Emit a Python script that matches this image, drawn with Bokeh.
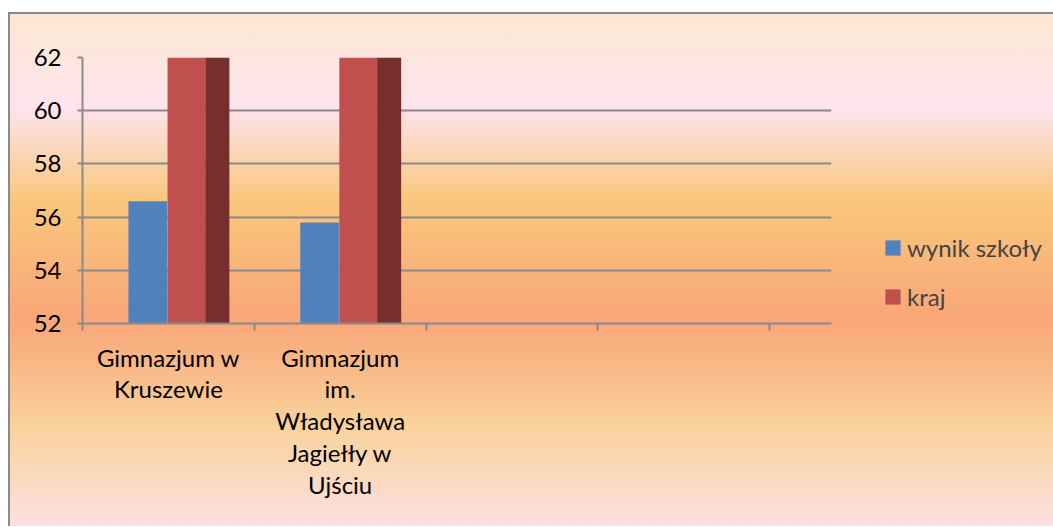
from bokeh.plotting import figure
from bokeh.models import FixedTicker, Legend, LegendItem, Range1d
from bokeh.embed import file_html
from bokeh.resources import INLINE

# ---- data ----
categories = ["Gimnazjum w\nKruszewie", "Gimnazjum\nim.\nWładysława\nJagiełły w\nUjściu"]
wynik_szkoly = [56.6, 55.8]
kraj = [64.0, 64.0]          # exceeds the axis maximum (clipped at 62)
third_series = [64.0, 64.0]  # dark series, also clipped, not in legend
y_ticks = [52, 54, 56, 58, 60, 62]
n_slots = 5                  # category tick boundaries shown on the axis

FONT = "Lato"
GRID = "#8a8a8a"

x_end = 4.36
p = figure(width=1044, height=514, output_backend="svg", toolbar_location=None,
           x_range=Range1d(0, x_end), y_range=Range1d(52, 62),
           frame_width=749, frame_height=266,
           min_border_left=74, min_border_right=221,
           min_border_top=45, min_border_bottom=203)
p.margin = (12, 0, 0, 8)
p.background_fill_alpha = 0
p.border_fill_alpha = 0
p.outline_line_color = None
p.styles = {
    "background-image": "linear-gradient(to bottom, #FBE8D0 0%, #FDE4EE 18.5%, #F9C77C 36.6%, "
                        "#F9A678 60%, #F9D29C 80.7%, #FCE0E0 100%)",
    "box-shadow": "inset 2px 2px 0 0 #8a8a8a",
}

centers = [i + 0.5 for i in range(len(categories))]
blue_x = [c - 0.23 + 0.11 for c in centers]
red_x = [c - 0.005 + 0.11 for c in centers]
dark_x = [c + 0.215 + 0.07 for c in centers]

r1 = p.vbar(x=blue_x, top=wynik_szkoly, bottom=52, width=0.225,
            fill_color="#4F81BD", line_color=None)
r2 = p.vbar(x=red_x, top=kraj, bottom=52, width=0.22,
            fill_color="#C0504D", line_color=None)
p.vbar(x=dark_x, top=third_series, bottom=52, width=0.14,
       fill_color="#772F2E", line_color=None)

# axes
for ax in (p.xaxis[0], p.yaxis[0]):
    ax.axis_line_color = GRID
    ax.axis_line_width = 2
    ax.major_label_text_font = FONT
    ax.major_label_text_font_size = "24px"
    ax.major_label_text_color = "#000000"

p.yaxis[0].ticker = FixedTicker(ticks=y_ticks)
p.yaxis[0].major_tick_line_color = GRID
p.yaxis[0].major_tick_line_width = 2
p.yaxis[0].major_tick_in = 0
p.yaxis[0].major_tick_out = 5
p.yaxis[0].minor_tick_line_color = None
p.yaxis[0].major_label_standoff = 16

p.xaxis[0].ticker = FixedTicker(ticks=centers, minor_ticks=list(range(n_slots)))
p.xaxis[0].major_tick_line_color = None
p.xaxis[0].minor_tick_line_color = GRID
p.xaxis[0].minor_tick_line_width = 2
p.xaxis[0].minor_tick_in = 0
p.xaxis[0].minor_tick_out = 7
p.xaxis[0].major_label_standoff = 12
p.xaxis[0].major_label_text_line_height = 1.1
p.xaxis[0].major_label_overrides = {c: lab for c, lab in zip(centers, categories)}

p.xgrid.grid_line_color = None
p.ygrid.ticker = FixedTicker(ticks=y_ticks)
p.ygrid.grid_line_color = GRID
p.ygrid.grid_line_width = 2
p.ygrid.level = "underlay"

legend = Legend(items=[LegendItem(label="wynik szkoły", renderers=[r1]),
                       LegendItem(label="kraj", renderers=[r2])],
                location=(52, 12))
legend.background_fill_alpha = 0
legend.border_line_color = None
legend.padding = 0
legend.margin = 0
legend.glyph_width = 19
legend.glyph_height = 19
legend.label_standoff = 5
legend.label_text_font = FONT
legend.label_text_font_size = "24px"
legend.label_height = 24
legend.spacing = 20
p.add_layout(legend, "right")

open("out.html", "w").write(file_html(p, INLINE))
